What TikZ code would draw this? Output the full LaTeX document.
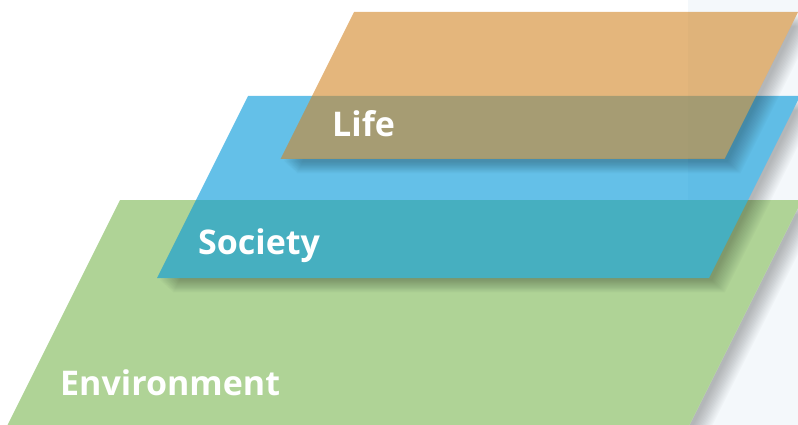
\documentclass[tikz,border=0pt]{standalone}
\usepackage{fontspec}
\setmainfont{Open Sans}
\definecolor{lifeC}{RGB}{210,133,37}
\definecolor{socC}{RGB}{7,154,218}
\definecolor{envC}{RGB}{175,211,150}
\definecolor{panelC}{RGB}{244,248,251}
\tikzset{
  labeltext/.style={text=white,font=\bfseries\fontsize{34}{34}\selectfont,anchor=base west,inner sep=0pt},
  shadowlayer/.style={fill=black,opacity=0.02}
}
\newcommand\envpath{(120,200) -- (802,200) -- (687,430) -- (5,430) -- cycle}
\newcommand\socpath{(248,96) -- (800,96) -- (709,278) -- (157,278) -- cycle}
\newcommand\lifepath{(354,12) -- (798,12) -- (724.5,159) -- (280.5,159) -- cycle}
\newcommand\outerpath{(-20,-20) -- (-20,450) -- (820,450) -- (820,-20) -- cycle}
\newcommand\softshadow[1]{%
  \begin{scope}
    \clip \outerpath #1;
    \foreach \s in {3,...,16} {
      \fill[shadowlayer,shift={(\s,\s*0.9)}] #1;
    }
  \end{scope}}
\begin{document}
\begin{tikzpicture}[x=1pt,y=-1pt]
\useasboundingbox (0,0) rectangle (798,425);
\clip (0,0) rectangle (798,425);
\fill[panelC] (688,0) rectangle (798,425);
% environment
\softshadow{\envpath}
\fill[envC] \envpath;
% society
\softshadow{\socpath}
\fill[socC,opacity=0.625] \socpath;
% life
\softshadow{\lifepath}
\fill[lifeC,opacity=0.6] \lifepath;
\node[labeltext] (life) at (332,137) {Life};
\node[labeltext] (society) at (198,254) {Society};
\node[labeltext] (environment) at (60,395) {Environment};
\end{tikzpicture}
\end{document}
